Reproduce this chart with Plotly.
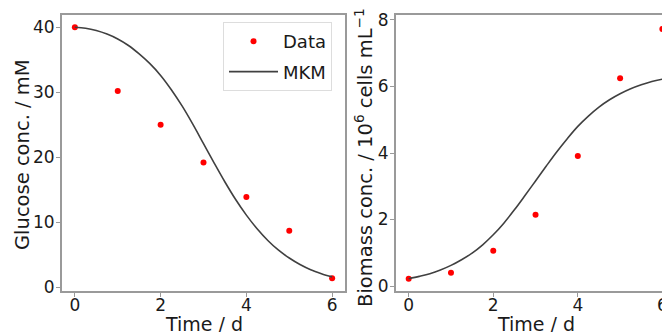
import plotly.graph_objects as go

# ---- data ----
time_data = [0, 1, 2, 3, 4, 5, 6]
glucose_data = [40.0, 30.2, 25.0, 19.2, 13.9, 8.7, 1.4]
biomass_data = [0.22, 0.40, 1.06, 2.14, 3.91, 6.25, 7.73]

time_model = [0, 0.25, 0.5, 0.75, 1, 1.25, 1.5, 1.75, 2, 2.25, 2.5, 2.75, 3,
              3.25, 3.5, 3.75, 4, 4.25, 4.5, 4.75, 5, 5.25, 5.5, 5.75, 6]
glucose_model = [40.0, 39.85, 39.5, 38.95, 38.2, 37.2, 35.9, 34.4, 32.6, 30.4,
                 27.9, 25.1, 22.1, 19.1, 16.2, 13.5, 11.1, 9.0, 7.2, 5.7,
                 4.5, 3.5, 2.7, 2.1, 1.6]
biomass_model = [0.22, 0.29, 0.37, 0.48, 0.62, 0.79, 0.99, 1.24, 1.54, 1.89,
                 2.29, 2.72, 3.16, 3.60, 4.03, 4.43, 4.80, 5.11, 5.38, 5.60,
                 5.78, 5.93, 6.05, 6.15, 6.22]

x_ticks = [0, 2, 4, 6]
glucose_ticks = [0, 10, 20, 30, 40]
biomass_ticks = [0, 2, 4, 6, 8]

# page is shown with an 8px body margin -> figure covers page area 8..670 x 8..332
W, H = 662, 324
FONT = "DejaVu Sans"
FRAME = "#9a9a9a"
TXT = "#1a1a1a"
RED = "#ff0000"
LINE = "#404040"

fig = go.Figure()

fig.add_trace(go.Scatter(x=time_data, y=glucose_data, mode="markers", name="Data",
                         marker=dict(color=RED, size=6), xaxis="x", yaxis="y",
                         legendgroup="a"))
fig.add_trace(go.Scatter(x=time_model, y=glucose_model, mode="lines", name="MKM",
                         line=dict(color=LINE, width=1.6, shape="spline"),
                         xaxis="x", yaxis="y", legendgroup="b"))
fig.add_trace(go.Scatter(x=time_data, y=biomass_data, mode="markers", name="Data",
                         marker=dict(color=RED, size=6), xaxis="x2", yaxis="y2",
                         showlegend=False, cliponaxis=False))
fig.add_trace(go.Scatter(x=time_model, y=biomass_model, mode="lines", name="MKM",
                         line=dict(color=LINE, width=1.6, shape="spline"),
                         xaxis="x2", yaxis="y2", showlegend=False))

ydom = [(H - 283) / H, (H - 7) / H]
common = dict(showgrid=False, zeroline=False, showline=True, linecolor=FRAME,
              linewidth=1.8, ticks="outside", ticklen=4, tickwidth=1.2,
              tickcolor=FRAME, tickfont=dict(family=FONT, size=17, color=TXT),
              automargin=False)

fig.update_layout(
    width=W, height=H,
    margin=dict(l=0, r=0, t=0, b=0),
    paper_bgcolor="white", plot_bgcolor="white",
    xaxis=dict(domain=[54 / W, 337 / W], range=[-0.3, 6.3], tickvals=x_ticks,
               mirror=True, anchor="y", ticklabelstandoff=-6, **common),
    yaxis=dict(domain=ydom, range=[-0.57, 41.89], tickvals=glucose_ticks,
               mirror=True, anchor="x", ticklabelstandoff=-2, **common),
    xaxis2=dict(domain=[388 / W, 1.0], range=[-0.3, 6.18], tickvals=x_ticks,
                mirror=True, anchor="y2", ticklabelstandoff=-6, **common),
    yaxis2=dict(domain=ydom, range=[-0.15, 8.15], tickvals=biomass_ticks,
                mirror=False, anchor="x2", ticklabelstandoff=-2, **common),
    legend=dict(x=215 / W, y=(H - 14) / H, xanchor="left", yanchor="top",
                bgcolor="white", bordercolor="#dddddd", borderwidth=1,
                font=dict(family=FONT, size=18, color=TXT),
                itemwidth=49, tracegroupgap=4, traceorder="grouped"),
    showlegend=True,
    annotations=[
        dict(text="Glucose conc. / mM", x=14 / W, y=(H - 147) / H,
             xref="paper", yref="paper", textangle=-90, showarrow=False,
             xanchor="center", yanchor="middle",
             font=dict(family=FONT, size=19.5, color=TXT)),
        dict(text="Biomass conc. / 10<sup>6</sup> cells mL<sup>\u22121</sup>",
             x=356 / W, y=(H - 150) / H,
             xref="paper", yref="paper", textangle=-90, showarrow=False,
             xanchor="center", yanchor="middle",
             font=dict(family=FONT, size=19.5, color=TXT)),
        dict(text="Time / d", x=196 / W, y=(H - 303) / H, xref="paper",
             yref="paper", xanchor="center", yanchor="top", showarrow=False,
             font=dict(family=FONT, size=19, color=TXT)),
        dict(text="Time / d", x=528 / W, y=(H - 303) / H, xref="paper",
             yref="paper", xanchor="center", yanchor="top", showarrow=False,
             font=dict(family=FONT, size=19, color=TXT)),
    ],
)

fig.write_html("out.html")
